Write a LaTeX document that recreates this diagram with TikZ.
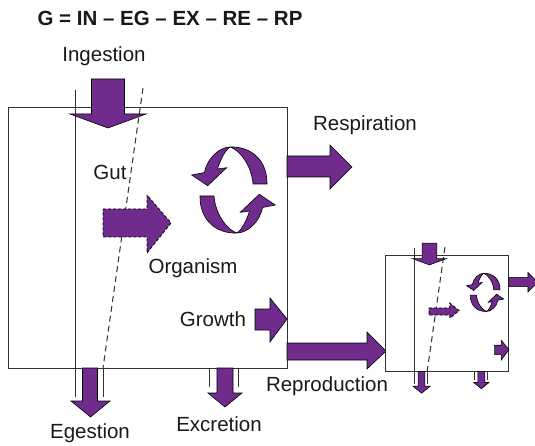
\documentclass[tikz,border=0pt]{standalone}
\usepackage{fontspec}
\setmainfont{Liberation Sans}
\definecolor{arrowpurple}{RGB}{112,44,140}
\definecolor{boxgray}{RGB}{50,50,50}
\newcommand\cyclehalf{%
  \path[flow] (33.5,-6) .. controls (34,-30) and (17,-44) .. (-3.5,-43)
    .. controls (-13,-43) and (-26,-33) .. (-29,-17.5)
    -- (-41.8,-15) -- (-25.8,-4.3) -- (-6.8,-22.3) -- (-16,-21)
    .. controls (-13,-31) and (-8,-40) .. (-3.5,-43)
    .. controls (6,-40) and (18,-25) .. (19.5,-6) -- cycle;}
\newcommand\orgcommon{%
  % organism box and gut walls
  \draw[boxline] (8,108) rectangle (287,368);
  \draw[boxline] (75,90) -- (75,397);
  \draw[boxline] (103,368) -- (103,397);
  \draw[boxline] (209.5,368) -- (209.5,387);
  \draw[boxline] (238.5,368) -- (238.5,387);
  \draw[boxline,dashed,dash pattern=on 6pt off 4pt] (143,88) -- (103,368);
  % ingestion
  \path[flow] (91.5,79) -- (124.5,79) -- (124.5,114) -- (146,114) -- (108,128) -- (70,114) -- (91.5,114) -- cycle;
  % respiration
  \path[flow] (287,156) -- (330,156) -- (330,145) -- (352,167) -- (330,189) -- (330,177) -- (287,177) -- cycle;
  % growth
  \path[flow] (255,309) -- (270,309) -- (270,298) -- (287,319) -- (270,342) -- (270,330) -- (255,330) -- cycle;
  % egestion
  \path[flow] (82.5,368) -- (97.5,368) -- (97.5,401) -- (110,401) -- (90.5,417) -- (71,401) -- (82.5,401) -- cycle;
  % excretion
  \path[flow] (217,368) -- (233,368) -- (233,393) -- (242,393) -- (225,407) -- (208,393) -- (217,393) -- cycle;
  % cycle arrows
  \begin{scope}[shift={(233.5,190)}]
    \cyclehalf
    \begin{scope}[rotate=180]\cyclehalf\end{scope}
  \end{scope}}
\begin{document}
\begin{tikzpicture}[x=1pt,y=-1pt,
  flow/.style={fill=arrowpurple,draw=black,line width=0.6pt,line join=miter},
  dflow/.style={fill=arrowpurple,draw=black,line width=0.8pt,dashed,dash pattern=on 3pt off 2pt},
  boxline/.style={draw=boxgray,line width=1pt},
  lbl/.style={font=\fontsize{20.5}{24}\selectfont,inner sep=0pt,text=black!90}]
\useasboundingbox (0,0) rectangle (535,446);
% large organism
\begin{scope}
  \orgcommon
  % reproduction
  \path[flow] (287,343) -- (367,343) -- (367,332) -- (386,351) -- (367,369) -- (367,360) -- (287,360) -- cycle;
  % gut to organism (dashed)
  \path[dflow] (103,209) -- (147,209) -- (147,195) -- (171,223) -- (147,253) -- (147,237) -- (103,237) -- cycle;
\end{scope}
% small organism (offspring)
\begin{scope}[shift={(385,256)},scale=0.444,shift={(-8,-108)}]
  \orgcommon
  \path[dflow] (107,225) -- (154,225) -- (154,214) -- (175,231) -- (154,248) -- (154,241) -- (107,241) -- cycle;
\end{scope}
% labels
\node[lbl,font=\fontsize{20.5}{24}\selectfont\bfseries] (title) at (170,18) {G = IN – EG – EX – RE – RP};
\node[lbl] (ing) at (104,56) {Ingestion};
\node[lbl] (gut) at (110,172) {Gut};
\node[lbl] (org) at (193,268) {Organism};
\node[lbl] (resp) at (365,125) {Respiration};
\node[lbl] (grow) at (213,319) {Growth};
\node[lbl] (repr) at (327,386) {Reproduction};
\node[lbl] (eges) at (90,433) {Egestion};
\node[lbl] (excr) at (219,424) {Excretion};
\end{tikzpicture}
\end{document}
